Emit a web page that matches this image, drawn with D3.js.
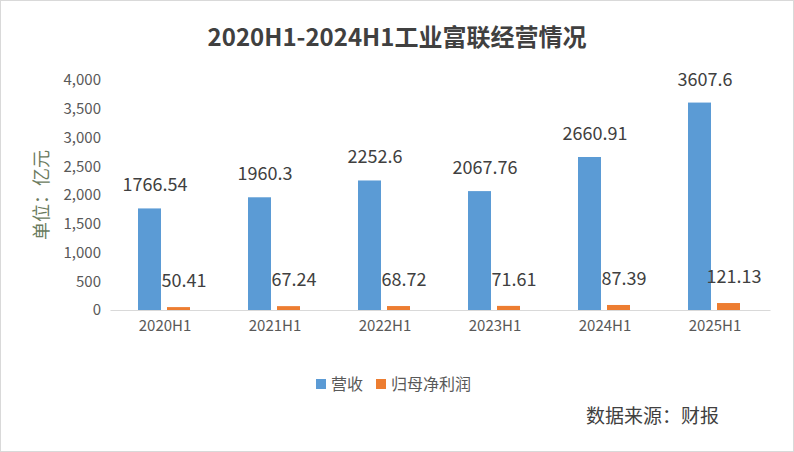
<!DOCTYPE html><html><head><meta charset="utf-8"><script src="https://cdn.jsdelivr.net/npm/d3@7"></script>
<style>body{margin:0;background:#fff}text{font-family:"Noto Sans CJK SC","Liberation Sans",sans-serif}</style></head><body>
<svg id="c" width="794" height="452"></svg>
<script>
const categories=["2020H1","2021H1","2022H1","2023H1","2024H1","2025H1"];
const revenue=[1766.54,1960.3,2252.6,2067.76,2660.91,3607.6];
const profit=[50.41,67.24,68.72,71.61,87.39,121.13];
const revLabels=["1766.54","1960.3","2252.6","2067.76","2660.91","3607.6"];
const profLabels=["50.41","67.24","68.72","71.61","87.39","121.13"];
const yTicks=[0,500,1000,1500,2000,2500,3000,3500,4000];
const svg=d3.select("#c");
svg.append("rect").attr("x",0.5).attr("y",0.5).attr("width",793).attr("height",451).attr("fill","#fff").attr("stroke","#d9d9d9");
const x=d3.scaleBand().domain(categories).range([110,770]);
const y=d3.scaleLinear().domain([0,4000]).range([310,80]);
svg.append("text").attr("x",397).attr("y",46).attr("text-anchor","middle").attr("font-size",24).attr("font-weight","bold").attr("fill","#404040").text("2020H1-2024H1工业富联经营情况");
const ya=svg.append("g").attr("transform","translate(105,0)").call(d3.axisLeft(y).tickValues(yTicks).tickSize(0).tickPadding(4));
ya.select(".domain").remove();
ya.selectAll("text").attr("font-size",15).attr("fill","#595959").attr("font-family","Liberation Sans, sans-serif");
const xa=svg.append("g").attr("transform","translate(0,310)").call(d3.axisBottom(x).tickSize(0).tickPadding(10));
xa.select(".domain").attr("stroke","#d9d9d9");
xa.selectAll("text").attr("font-size",15).attr("fill","#595959").attr("font-family","Liberation Sans, sans-serif");
const c=d=>x(d)+x.bandwidth()/2;
svg.selectAll(".r").data(revenue).join("rect").attr("x",(d,i)=>c(categories[i])-27).attr("width",23).attr("y",d=>y(d)).attr("height",d=>310-y(d)).attr("fill","#5b9bd5");
svg.selectAll(".p").data(profit).join("rect").attr("x",(d,i)=>c(categories[i])+2).attr("width",23).attr("y",d=>y(d)).attr("height",d=>310-y(d)).attr("fill","#ed7d31");
svg.selectAll(".rl").data(revenue).join("text").attr("x",(d,i)=>c(categories[i])-10).attr("y",d=>y(d)-17).attr("text-anchor","middle").attr("font-size",18).attr("fill","#404040").attr("font-family","Liberation Sans, sans-serif").text((d,i)=>revLabels[i]);
svg.selectAll(".pl").data(profit).join("text").attr("x",(d,i)=>c(categories[i])+19).attr("y",d=>y(d)-20).attr("text-anchor","middle").attr("font-size",18).attr("fill","#404040").attr("font-family","Liberation Sans, sans-serif").text((d,i)=>profLabels[i]);
svg.append("text").attr("transform","translate(48,195) rotate(-90)").attr("text-anchor","middle").attr("font-size",18).attr("fill","#6b7b5e").text("单位：亿元");
const lg=[["营收","#5b9bd5",316],["归母净利润","#ed7d31",376]];
lg.forEach(l=>{svg.append("rect").attr("x",l[2]).attr("y",379).attr("width",10).attr("height",10).attr("fill",l[1]);
svg.append("text").attr("x",l[2]+15).attr("y",390).attr("font-size",16).attr("fill","#595959").text(l[0]);});
svg.append("text").attr("x",586).attr("y",423).attr("font-size",19).attr("fill","#404040").text("数据来源：财报");
</script></body></html>
